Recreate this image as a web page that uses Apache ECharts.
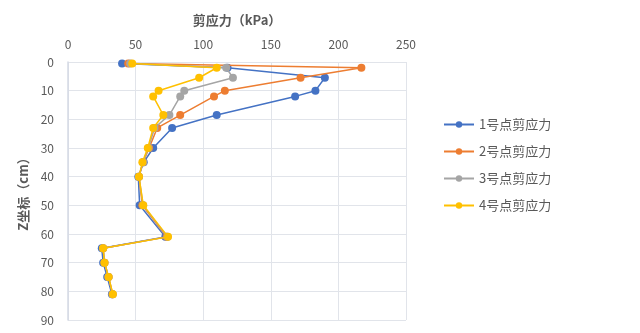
<!DOCTYPE html>
<html>
<head>
<meta charset="utf-8">
<script src="https://cdn.jsdelivr.net/npm/echarts@6/dist/echarts.min.js"></script>
<style>
  html, body { margin: 0; padding: 0; background: #fff; }
  #chart { width: 640px; height: 333px; }
</style>
</head>
<body>
<div id="chart"></div>
<script>
// Depth of each measuring point (cm)
const depthZ = [0.5, 2, 5.5, 10, 12, 18.5, 23, 30, 35, 40, 50, 61, 65, 70, 75, 81];

// Shear stress at each depth (kPa)
const shear1 = [40, 118, 190, 183, 168, 110, 77, 63, 56, 52, 53, 72, 25, 26, 29, 32.5];
const shear2 = [44.5, 217, 172, 116, 108, 83, 66, 60, 55.5, 52.5, 55, 73, 26, 27, 30, 33];
const shear3 = [46, 117, 122, 86, 83, 75, 64, 59.5, 55.5, 52.5, 55.5, 73.5, 26, 27, 30, 33];
const shear4 = [47.5, 110, 97, 67, 63, 70.5, 63, 59, 55, 52.5, 55.7, 74, 26, 27, 30, 33.2];

const seriesNames = ['1号点剪应力', '2号点剪应力', '3号点剪应力', '4号点剪应力'];
const seriesValues = [shear1, shear2, shear3, shear4];
const colors = ['#4472C4', '#ED7D31', '#A5A5A5', '#FFC000'];

const font = '"Noto Sans CJK SC", "Open Sans", sans-serif';
const textColor = '#595959';

const chart = echarts.init(document.getElementById('chart'), null, { renderer: 'canvas' });

chart.setOption({
  animation: false,
  color: colors,
  textStyle: { fontFamily: font },
  grid: { left: 68, right: 234, top: 62, bottom: 13, containLabel: false },
  legend: {
    orient: 'vertical',
    left: 438,
    top: 113,
    itemWidth: 30,
    itemHeight: 8,
    itemGap: 14,
    data: seriesNames,
    textStyle: { color: textColor, fontSize: 13, fontFamily: font }
  },
  xAxis: {
    type: 'value',
    position: 'top',
    min: 0,
    max: 250,
    interval: 50,
    name: '剪应力（kPa）',
    nameLocation: 'middle',
    nameGap: 35,
    nameTextStyle: { color: textColor, fontSize: 13, fontWeight: 'bold', fontFamily: font },
    axisLine: { show: false },
    axisTick: { show: false },
    axisLabel: { color: textColor, fontSize: 12, margin: 12, fontFamily: font },
    splitLine: { show: true, lineStyle: { color: '#E1E4EA', width: 1 } }
  },
  yAxis: {
    type: 'value',
    inverse: true,
    min: 0,
    max: 90,
    interval: 10,
    name: 'Z坐标（cm）',
    nameLocation: 'middle',
    nameGap: 33,
    nameRotate: 90,
    nameTextStyle: { color: textColor, fontSize: 13, fontWeight: 'bold', fontFamily: font },
    axisLine: { show: true, lineStyle: { color: '#D5DAE5', width: 1.5 } },
    axisTick: { show: false },
    axisLabel: { color: textColor, fontSize: 12, margin: 14, fontFamily: font },
    splitLine: { show: true, lineStyle: { color: '#E1E4EA', width: 1 } }
  },
  series: seriesNames.map((name, i) => ({
    name: name,
    type: 'line',
    data: seriesValues[i].map((v, k) => [v, depthZ[k]]),
    symbol: 'circle',
    symbolSize: 8,
    showSymbol: true,
    lineStyle: { width: 1.5 },
    itemStyle: { color: colors[i] },
    z: 2 + i
  }))
});
</script>
</body>
</html>
